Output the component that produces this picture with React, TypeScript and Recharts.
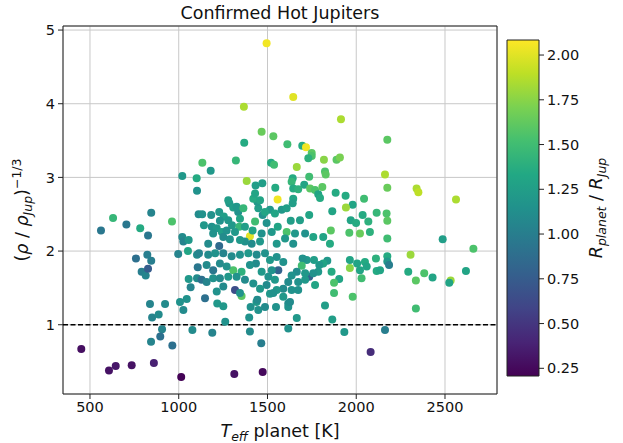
import React from 'react';
import {
  ScatterChart,
  Scatter,
  XAxis,
  YAxis,
  CartesianGrid,
  ReferenceLine,
  ReferenceArea,
  ComposedChart,
} from 'recharts';

// Effective temperature of the planet [K]
const teff = [
  451, 607, 645, 735, 860, 1014, 562, 630, 705, 783, 845, 827, 962, 759, 823, 845, 791, 814, 827, 838,
  923, 850, 887, 906, 896, 844, 964, 997, 1007, 1026, 1045, 1077, 1020, 1026, 1056, 1052, 1056, 1067, 1103, 1107,
  1103, 1112, 1103, 1313, 1473, 1189, 1401, 1465, 1262, 1397, 1617, 1148, 1217, 1251, 1354, 1317, 1405, 1438, 1448, 1486,
  1514, 1548, 1589, 1617, 1132, 1183, 1228, 1254, 1285, 1307, 1335, 1345, 1279, 1232, 1300, 1341, 1142, 1186, 1214, 1243,
  1270, 1317, 1373, 1401, 1430, 1416, 1448, 1443, 1473, 1514, 1542, 1495, 1524, 1558, 1467, 1458, 1411, 1373, 1345, 1288,
  1251, 1194, 1166, 1228, 1114, 1166, 1205, 1251, 1298, 1345, 1392, 1439, 1486, 1514, 1552, 1561, 1505, 1495, 1467, 1435,
  1401, 1354, 1307, 1270, 1232, 1194, 1157, 1129, 1157, 1194, 1232, 1279, 1326, 1373, 1345, 1251, 1214, 1443, 1420, 1458,
  1367, 1467, 1533, 1369, 1133, 1322, 1520, 1537, 1020, 1101, 1180, 1383, 1433, 1471, 1544, 1557, 1420, 1430, 1279, 1326,
  1364, 1486, 1458, 1645, 1914, 1612, 1696, 1717, 1749, 1749, 1730, 1818, 1889, 1908, 1665, 1824, 1828, 2175, 2162, 2175,
  1642, 1636, 1645, 1707, 1735, 1673, 1740, 1768, 1809, 1786, 1796, 1884, 1940, 2044, 1980, 1645, 1642, 1942, 1865, 2115,
  2171, 1969, 1999, 2036, 2068, 1735, 1683, 1631, 1580, 1608, 1608, 1655, 1712, 1758, 1814, 1857, 1852, 1961, 2021, 2077,
  2175, 1599, 1645, 1552, 1964, 1964, 2005, 2049, 2059, 2111, 2115, 2175, 2030, 2021, 1904, 1861, 1837, 1814, 1792, 1762,
  1721, 1698, 1693, 1735, 1786, 1758, 1712, 1665, 1636, 1617, 1673, 1712, 1768, 1875, 1980, 1589, 1524, 1542, 1589, 1636,
  1552, 1533, 1875, 1824, 1865, 1933, 2081, 2162, 1665, 1617, 1627, 1673, 2340, 2350, 2562, 2175, 2487, 2660, 2175, 2185,
  2306, 2293, 2383, 2336, 2430, 2618, 2532, 2524, 2336, 2134, 1495,
];

// (rho / rho_Jup)^(-1/3)
const density = [
  0.67, 0.38, 0.44, 0.45, 0.48, 0.29, 2.28, 2.45, 2.36, 2.31, 2.52, 2.21, 2.40, 1.90, 1.95, 1.87, 1.72, 1.67, 1.76, 1.28,
  1.28, 1.10, 1.14, 0.94, 0.84, 0.77, 0.72, 1.96, 1.31, 1.20, 1.35, 0.93, 2.19, 2.13, 2.15, 2.00, 1.62, 1.51, 1.95, 1.78,
  1.63, 2.50, 2.82, 0.33, 0.36, 0.89, 0.91, 0.75, 1.04, 1.10, 0.95, 1.36, 1.29, 1.25, 1.39, 1.47, 1.24, 1.31, 1.20, 1.24,
  1.42, 1.24, 1.38, 1.29, 2.50, 2.49, 2.53, 2.47, 2.65, 2.59, 2.53, 2.44, 2.42, 2.41, 2.35, 2.33, 2.35, 2.33, 2.31, 2.26,
  2.28, 2.26, 2.33, 2.20, 2.40, 2.28, 2.58, 2.67, 2.49, 2.56, 2.51, 2.38, 2.26, 2.33, 2.24, 2.13, 2.10, 2.13, 2.15, 2.16,
  2.19, 2.24, 2.10, 2.07, 1.97, 1.95, 1.97, 1.97, 1.93, 1.95, 1.97, 1.95, 1.97, 1.88, 1.92, 1.74, 1.65, 1.54, 1.72, 1.83,
  1.81, 1.72, 1.74, 1.79, 1.83, 1.74, 1.81, 1.61, 1.58, 1.63, 1.63, 1.65, 1.65, 1.61, 1.43, 1.52, 1.45, 1.34, 1.56, 1.49,
  3.96, 3.62, 3.56, 3.47, 3.20, 3.23, 3.20, 3.17, 3.02, 2.99, 3.09, 2.95, 2.89, 2.92, 2.86, 2.70, 2.71, 2.78, 2.69, 2.60,
  2.58, 2.53, 2.69, 4.09, 3.79, 3.45, 3.43, 3.41, 3.33, 3.29, 3.26, 3.24, 3.24, 3.27, 3.14, 3.08, 3.04, 3.51, 3.04, 2.86,
  2.99, 2.94, 2.85, 2.90, 3.01, 2.84, 2.85, 2.83, 2.87, 2.77, 2.72, 2.79, 2.75, 2.71, 2.63, 2.71, 2.65, 2.59, 2.54, 2.52,
  2.51, 2.42, 2.38, 2.49, 2.40, 2.49, 2.42, 2.41, 2.56, 2.58, 2.26, 2.24, 2.24, 2.19, 2.19, 2.28, 2.10, 2.25, 2.24, 2.26,
  2.17, 2.17, 2.10, 2.10, 1.88, 1.77, 1.83, 1.85, 1.79, 1.90, 1.73, 1.93, 1.63, 1.74, 1.62, 1.72, 1.87, 1.83, 1.81, 1.88,
  1.88, 1.90, 1.80, 1.65, 1.72, 1.70, 1.70, 1.72, 1.67, 1.58, 1.58, 1.61, 1.54, 1.57, 1.38, 1.85, 1.74, 1.61, 1.49, 1.47,
  1.47, 1.43, 1.43, 1.26, 1.07, 0.90, 0.63, 0.93, 1.09, 1.24, 1.31, 1.47, 2.85, 2.80, 2.70, 2.41, 2.16, 2.03, 1.86, 1.81,
  1.95, 1.72, 1.70, 1.60, 1.64, 1.73, 1.60, 1.57, 1.22, 1.74, 4.82,
];

// R_planet / R_Jup (colour)
const radius = [
  0.28, 0.30, 0.32, 0.30, 0.38, 0.22, 0.95, 1.45, 0.95, 1.35, 1.05, 0.95, 1.55, 0.90, 1.00, 1.00, 1.00, 1.05, 0.75, 1.05,
  1.10, 1.05, 1.10, 1.05, 0.90, 1.05, 0.90, 1.05, 1.15, 1.10, 1.15, 1.10, 1.10, 1.05, 1.20, 1.30, 1.20, 1.05, 1.10, 0.95,
  1.10, 1.10, 1.15, 0.30, 0.25, 1.05, 1.10, 1.00, 1.15, 1.15, 1.15, 0.90, 1.20, 1.20, 1.60, 0.65, 1.15, 1.20, 1.15, 1.10,
  1.20, 1.15, 1.20, 1.10, 1.15, 1.15, 1.20, 1.25, 1.20, 1.25, 1.15, 1.30, 1.20, 1.15, 1.20, 1.45, 1.20, 1.15, 1.20, 1.25,
  1.15, 1.20, 1.25, 2.00, 1.50, 1.30, 1.25, 1.20, 1.15, 1.20, 1.30, 1.15, 1.20, 1.30, 1.15, 1.20, 1.10, 1.15, 1.20, 1.15,
  1.10, 1.15, 1.10, 0.85, 1.05, 1.10, 1.15, 1.05, 1.10, 1.15, 1.20, 1.10, 1.15, 1.20, 1.15, 0.80, 1.15, 1.10, 1.20, 1.10,
  1.15, 1.40, 1.55, 1.15, 1.10, 0.95, 1.10, 0.90, 1.05, 1.15, 1.10, 1.20, 1.15, 1.10, 1.15, 1.10, 1.15, 1.10, 1.15, 1.20,
  1.85, 1.65, 1.60, 1.35, 1.55, 1.45, 1.35, 1.50, 1.20, 1.35, 1.20, 1.80, 1.25, 1.25, 1.35, 2.05, 1.35, 1.30, 1.25, 1.20,
  1.45, 1.30, 1.30, 2.00, 1.85, 1.50, 1.35, 2.05, 1.60, 1.55, 1.40, 1.75, 1.60, 1.70, 1.80, 1.55, 1.60, 1.60, 1.85, 1.65,
  1.35, 1.45, 1.35, 1.30, 1.50, 1.40, 1.60, 1.55, 1.60, 1.30, 1.35, 1.35, 1.35, 1.50, 1.30, 1.30, 1.25, 1.80, 1.30, 1.45,
  1.55, 1.30, 1.35, 1.35, 1.40, 1.30, 1.25, 1.25, 1.20, 1.25, 1.55, 1.20, 1.15, 1.30, 1.30, 1.60, 1.35, 1.55, 1.65, 1.40,
  1.50, 1.20, 1.15, 1.20, 1.30, 1.75, 1.30, 1.35, 1.30, 1.40, 1.35, 1.35, 1.50, 1.30, 1.30, 1.35, 1.20, 1.30, 1.20, 1.25,
  1.20, 1.15, 1.50, 0.80, 1.20, 1.15, 1.20, 1.10, 1.15, 1.10, 1.15, 1.20, 1.30, 1.55, 1.55, 1.15, 1.15, 1.20, 1.10, 1.15,
  1.20, 1.15, 1.50, 1.25, 1.25, 1.20, 0.45, 1.00, 1.20, 1.15, 1.10, 1.15, 1.85, 1.90, 1.85, 1.60, 1.25, 1.55, 1.20, 1.00,
  1.80, 1.35, 1.55, 1.60, 1.30, 1.30, 1.80, 1.30, 1.50, 1.30, 2.05,
];

const xTicks = [500, 1000, 1500, 2000, 2500];
const yTicks = [1, 2, 3, 4, 5];
const cbTicks = [0.25, 0.5, 0.75, 1.0, 1.25, 1.5, 1.75, 2.0];
const R_MIN = 0.207;
const R_MAX = 2.084;

const VIRIDIS = [
  '#440154', '#482475', '#414487', '#355f8d', '#2a788e', '#21918c',
  '#22a884', '#44bf70', '#7ad151', '#bddf26', '#fde725',
];

function hexToRgb(h: string) {
  return [parseInt(h.slice(1, 3), 16), parseInt(h.slice(3, 5), 16), parseInt(h.slice(5, 7), 16)];
}

function viridis(v: number) {
  let t = (v - R_MIN) / (R_MAX - R_MIN);
  t = Math.max(0, Math.min(1, t));
  const pos = t * (VIRIDIS.length - 1);
  const i = Math.min(Math.floor(pos), VIRIDIS.length - 2);
  const f = pos - i;
  const a = hexToRgb(VIRIDIS[i]);
  const b = hexToRgb(VIRIDIS[i + 1]);
  const c = a.map((x, k) => Math.round(x + (b[k] - x) * f));
  return `rgb(${c[0]},${c[1]},${c[2]})`;
}

const points = teff.map((t, i) => ({ t, d: density[i], r: radius[i], fill: viridis(radius[i]) }));

const FONT = '"DejaVu Sans", sans-serif';
const W = 623;
const H = 443;

const Dot = (p: any) => <circle cx={p.cx} cy={p.cy} r={4} fill={p.payload.fill} />;

export default function App() {
  return (
    <div style={{ position: 'absolute', left: 0, top: 0, width: W, height: H, background: '#fff', fontFamily: FONT }}>
      <svg width={0} height={0} style={{ position: 'absolute' }}>
        <defs>
          <linearGradient id="viridisGrad" x1="0" y1="1" x2="0" y2="0">
            {VIRIDIS.map((c, i) => (
              <stop key={i} offset={`${(i / (VIRIDIS.length - 1)) * 100}%`} stopColor={c} />
            ))}
          </linearGradient>
        </defs>
      </svg>

      <div style={{ position: 'absolute', left: 0, top: 0 }}>
        <ScatterChart width={W} height={H} margin={{ top: 26, right: 126, bottom: 0, left: 0 }}>
          <CartesianGrid stroke="#c8c8c8" strokeWidth={1} />
          <XAxis
            type="number"
            dataKey="t"
            domain={[348, 2793]}
            ticks={xTicks}
            height={49}
            tickSize={5}
            tickMargin={3}
            axisLine={false}
            tickLine={{ stroke: '#222' }}
            tick={{ fill: '#111', fontSize: 14.5, fontFamily: FONT }}
            allowDataOverflow
          />
          <YAxis
            type="number"
            dataKey="d"
            domain={[0.06, 5.055]}
            ticks={yTicks}
            width={63}
            tickSize={5}
            tickMargin={3}
            axisLine={false}
            tickLine={{ stroke: '#222' }}
            tick={{ fill: '#111', fontSize: 14.5, fontFamily: FONT }}
            allowDataOverflow
          />
          <ReferenceLine y={1} stroke="#000" strokeWidth={1.5} strokeDasharray="5 2.5" />
          <Scatter data={points} isAnimationActive={false} shape={Dot} />
          <ReferenceArea x1={348} x2={2793} y1={0.06} y2={5.055} fill="none" stroke="#222" strokeWidth={1} />
        </ScatterChart>
      </div>

      <div style={{ position: 'absolute', left: 0, top: 0 }}>
        <ComposedChart
          width={W}
          height={H}
          data={[{ x: 0 }, { x: 1 }]}
          margin={{ top: 40, right: 0, bottom: 67, left: 507 }}
        >
          <XAxis type="number" dataKey="x" domain={[0, 1]} hide />
          <YAxis
            type="number"
            orientation="right"
            domain={[R_MIN, R_MAX]}
            ticks={cbTicks}
            width={84}
            tickSize={5}
            tickMargin={3}
            axisLine={false}
            tickLine={{ stroke: '#222' }}
            tick={{ fill: '#111', fontSize: 14.5, fontFamily: FONT }}
            tickFormatter={(v: number) => v.toFixed(2)}
            allowDataOverflow
          />
          <ReferenceArea
            x1={0}
            x2={1}
            y1={R_MIN}
            y2={R_MAX}
            fill="url(#viridisGrad)"
            fillOpacity={1}
            stroke="#222"
            strokeWidth={1}
          />
        </ComposedChart>
      </div>

      <svg width={W} height={H} style={{ position: 'absolute', left: 0, top: 0, pointerEvents: 'none' }}>
        <text x={280} y={19} textAnchor="middle" fontSize={17.5} fill="#111" fontFamily={FONT}>
          Confirmed Hot Jupiters
        </text>
        <text x={280} y={437} textAnchor="middle" fontSize={17.5} fill="#111" fontFamily={FONT}>
          <tspan fontStyle="italic">T</tspan>
          <tspan fontStyle="italic" fontSize={12.5} dy={4}>eff</tspan>
          <tspan dy={-4}> planet [K]</tspan>
        </text>
        <text
          transform="translate(28,210) rotate(-90)"
          textAnchor="middle"
          fontSize={17.5}
          fill="#111"
          fontFamily={FONT}
        >
          <tspan>(</tspan>
          <tspan fontStyle="italic">ρ</tspan>
          <tspan> / </tspan>
          <tspan fontStyle="italic">ρ</tspan>
          <tspan fontStyle="italic" fontSize={12.5} dy={4}>Jup</tspan>
          <tspan dy={-4}>)</tspan>
          <tspan fontSize={12.5} dy={-7}>−1/3</tspan>
        </text>
        <text
          transform="translate(602,208) rotate(-90)"
          textAnchor="middle"
          fontSize={17.5}
          fill="#111"
          fontFamily={FONT}
        >
          <tspan fontStyle="italic">R</tspan>
          <tspan fontStyle="italic" fontSize={12.5} dy={4}>planet</tspan>
          <tspan dy={-4}> / </tspan>
          <tspan fontStyle="italic">R</tspan>
          <tspan fontStyle="italic" fontSize={12.5} dy={4}>Jup</tspan>
        </text>
      </svg>
    </div>
  );
}
